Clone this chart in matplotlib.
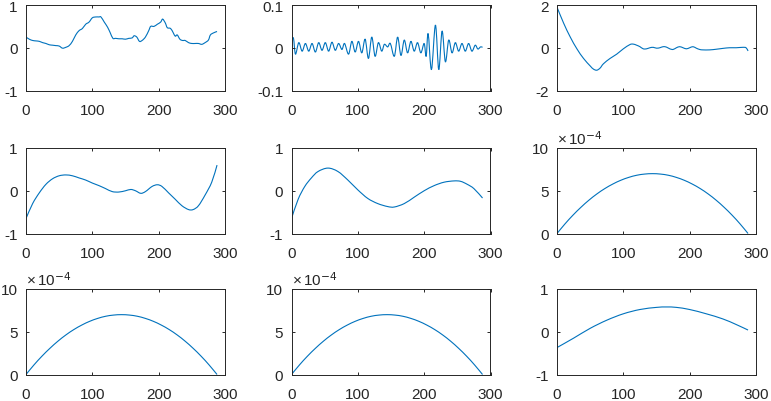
import matplotlib
matplotlib.use("Agg")
import matplotlib.pyplot as plt
from matplotlib.path import Path
from matplotlib.patches import PathPatch
from matplotlib.ticker import FuncFormatter
import numpy as np

plt.rcParams['font.family'] = ['Liberation Sans', 'DejaVu Sans']
plt.rcParams['axes.unicode_minus'] = False
plt.rcParams['mathtext.fontset'] = 'custom'
plt.rcParams['mathtext.rm'] = 'Liberation Sans'
plt.rcParams['mathtext.it'] = 'Liberation Sans:italic'

# Panel 1
p1_x = [0, 5, 10, 15, 20, 25, 30, 35, 40, 45, 50, 55, 60, 65, 70, 75, 80, 85, 90, 95,
        100, 105, 110, 113, 118, 123, 127, 131, 135, 140, 145, 150, 155, 160, 163, 167,
        171, 175, 180, 185, 188, 193, 198, 203, 206, 210, 213, 218, 222, 225, 228, 232,
        236, 240, 245, 250, 255, 260, 265, 270, 275, 278, 283, 288]
p1_y = [0.25, 0.2, 0.17, 0.16, 0.15, 0.12, 0.1, 0.07, 0.06, 0.05, 0.04, -0.01, 0.01, 0.05,
        0.15, 0.3, 0.4, 0.45, 0.55, 0.6, 0.7, 0.72, 0.72, 0.72, 0.6, 0.48, 0.35, 0.22, 0.22,
        0.21, 0.21, 0.2, 0.22, 0.23, 0.28, 0.25, 0.15, 0.17, 0.25, 0.4, 0.5, 0.5, 0.55, 0.6,
        0.67, 0.58, 0.47, 0.45, 0.35, 0.27, 0.3, 0.2, 0.17, 0.17, 0.12, 0.1, 0.1, 0.1, 0.08,
        0.12, 0.18, 0.3, 0.35, 0.38]

# Panel 2 (extrema of the oscillation)
p2_x = [0, 3, 6, 11, 16, 21, 26, 31, 36, 41, 46, 51, 56, 61, 66, 71, 76, 80, 86, 91, 96,
        101, 106, 111, 116, 121, 126, 131, 136, 140, 145, 149, 155, 160, 165, 170, 175,
        180, 185, 190, 195, 200, 203, 206, 211, 217, 222, 227, 232, 237, 242, 247, 252,
        257, 262, 267, 272, 277, 281, 285, 288]
p2_y = [0.02, 0.022, -0.015, 0.012, -0.008, 0.01, -0.008, 0.01, -0.01, 0.012, -0.006,
        0.012, -0.008, 0.013, -0.006, 0.01, -0.004, 0.01, -0.015, 0.015, -0.01, 0.015,
        -0.012, 0.02, -0.025, 0.025, -0.02, 0.012, -0.008, 0.008, 0.002, 0.01, -0.02,
        0.025, -0.018, 0.018, -0.012, 0.015, -0.008, 0.012, -0.012, 0.01, -0.02, 0.033,
        -0.051, 0.053, -0.051, 0.039, -0.033, 0.018, -0.012, 0.012, -0.008, 0.01, -0.008,
        0.01, -0.008, 0.006, -0.003, 0.002, 0.001]

# Panel 3
p3_x = [0, 10, 20, 30, 40, 50, 55, 60, 65, 70, 80, 90, 100, 110, 115, 120, 125, 130, 135,
        140, 145, 150, 155, 160, 165, 170, 175, 180, 185, 190, 195, 200, 205, 210, 215,
        220, 230, 240, 250, 260, 270, 280, 285, 288]
p3_y = [1.9, 1.15, 0.5, -0.05, -0.5, -0.85, -1.0, -1.05, -0.95, -0.75, -0.5, -0.3, -0.05,
        0.15, 0.17, 0.12, 0.05, -0.05, -0.05, 0.0, 0.02, -0.02, 0.0, 0.05, 0.03, -0.05,
        -0.08, 0.0, 0.05, 0.0, -0.05, 0.0, 0.05, -0.02, -0.08, -0.1, -0.1, -0.07, -0.03,
        0.0, 0.0, 0.02, 0.0, -0.15]

# Panel 4
p4_x = [0, 10, 20, 30, 40, 50, 60, 70, 80, 90, 100, 110, 120, 130, 140, 150, 158, 165,
        173, 180, 190, 198, 205, 215, 225, 235, 245, 252, 260, 270, 280, 288]
p4_y = [-0.65, -0.3, -0.05, 0.15, 0.28, 0.35, 0.37, 0.35, 0.3, 0.25, 0.18, 0.12, 0.05,
        -0.02, -0.03, 0.0, 0.03, 0.0, -0.06, -0.02, 0.1, 0.14, 0.1, -0.05, -0.2, -0.35,
        -0.44, -0.44, -0.35, -0.1, 0.2, 0.6]

# Panel 5
p5_x = [0, 10, 20, 30, 40, 55, 70, 85, 100, 115, 130, 145, 155, 170, 185, 200, 215, 230,
        245, 255, 265, 275, 288]
p5_y = [-0.65, -0.2, 0.1, 0.3, 0.45, 0.53, 0.45, 0.25, 0.02, -0.18, -0.3, -0.37, -0.38,
        -0.3, -0.15, 0.0, 0.12, 0.2, 0.23, 0.22, 0.15, 0.05, -0.17]

# Panels 6, 7, 8 (values in units of 1e-4)
arc_x = [0, 12, 24, 36, 48, 60, 72, 84, 96, 108, 120, 132, 144, 156, 168, 180, 192, 204,
         216, 228, 240, 252, 264, 276, 288]
arc_y_e4 = [0, 1.12, 2.14, 3.06, 3.89, 4.62, 5.25, 5.78, 6.22, 6.56, 6.81, 6.95, 7.0,
            6.95, 6.81, 6.56, 6.22, 5.78, 5.25, 4.62, 3.89, 3.06, 2.14, 1.12, 0]

# Panel 9
p9_x = [0, 25, 50, 75, 100, 125, 150, 165, 180, 200, 225, 250, 270, 288]
p9_y = [-0.37, -0.15, 0.08, 0.27, 0.42, 0.52, 0.57, 0.58, 0.57, 0.52, 0.42, 0.3, 0.17, 0.04]

x_ticks = [0, 100, 200, 300]
arc_y = [v * 1e-4 for v in arc_y_e4]

panels = [
    (p1_x, p1_y, (-1, 1), [-1, 0, 1], False),
    (p2_x, p2_y, (-0.1, 0.1), [-0.1, 0, 0.1], False),
    (p3_x, p3_y, (-2, 2), [-2, 0, 2], False),
    (p4_x, p4_y, (-1, 1), [-1, 0, 1], False),
    (p5_x, p5_y, (-1, 1), [-1, 0, 1], False),
    (arc_x, arc_y, (0, 1e-3), [0, 5e-4, 1e-3], True),
    (arc_x, arc_y, (0, 1e-3), [0, 5e-4, 1e-3], True),
    (arc_x, arc_y, (0, 1e-3), [0, 5e-4, 1e-3], True),
    (p9_x, p9_y, (-1, 1), [-1, 0, 1], False),
]


def smooth_path(x, y):
    """Catmull-Rom curve through the given points, as cubic Bezier segments."""
    x = np.asarray(x, float)
    y = np.asarray(y, float)
    pts = np.column_stack([x, y])
    n = len(pts)
    verts = [pts[0]]
    codes = [Path.MOVETO]
    for i in range(n - 1):
        p0 = pts[i - 1] if i > 0 else pts[i]
        p1 = pts[i]
        p2 = pts[i + 1]
        p3 = pts[i + 2] if i + 2 < n else pts[i + 1]
        c1 = p1 + (p2 - p0) / 6.0
        c2 = p2 - (p3 - p1) / 6.0
        verts += [c1, c2, p2]
        codes += [Path.CURVE4] * 3
    return Path(verts, codes)


W, H = 771, 402
fig = plt.figure(figsize=(W / 100, H / 100), dpi=100)
lefts = [26, 291.5, 557]
tops = [6, 149, 290]
aw, ah = 199, 85.5
edge = '#262626'
for i, (x, y, ylim, yt, sci) in enumerate(panels):
    r, c = divmod(i, 3)
    ax = fig.add_axes([lefts[c] / W, (H - tops[r] - ah) / H, aw / W, ah / H])
    ax.add_patch(PathPatch(smooth_path(x, y), fill=False, edgecolor='#0072BD', lw=0.8))
    ax.set_xlim(0, 300)
    ax.set_ylim(*ylim)
    ax.set_xticks(x_ticks)
    ax.set_yticks(yt)
    if sci:
        ax.yaxis.set_major_formatter(FuncFormatter(lambda v, p: '%g' % round(v * 1e4, 6)))
        ax.text(0.0, 1.015, r'$\times\,10^{\mathsf{-4}}$', transform=ax.transAxes,
                ha='left', va='bottom', fontsize=11, color=edge)
    else:
        ax.set_yticklabels([('%g' % v) for v in yt])
    for s in ax.spines.values():
        s.set_color(edge)
        s.set_linewidth(0.7)
    ax.tick_params(direction='in', length=2.5, width=0.7, color=edge, labelcolor=edge,
                   labelsize=11, top=True, right=True)
    ax.tick_params(axis='x', pad=9)
    ax.tick_params(axis='y', pad=6)

fig.savefig('out.png', dpi=100)
